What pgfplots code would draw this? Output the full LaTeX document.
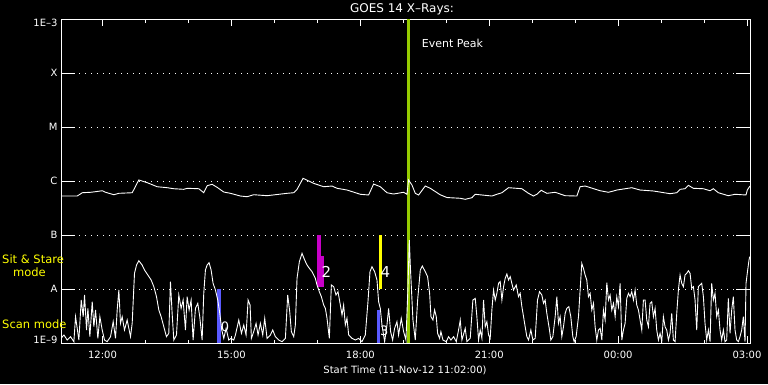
\documentclass[border=0pt]{standalone}
\usepackage{fontspec}
\setmainfont{DejaVu Sans}
\usepackage{pgfplots}
\pgfplotsset{compat=1.18}
\definecolor{scanblue}{RGB}{90,90,255}
\definecolor{sitmag}{RGB}{200,0,200}
\definecolor{peakgreen}{RGB}{150,204,0}
\definecolor{modeyellow}{RGB}{255,255,0}
\begin{document}
\begin{tikzpicture}[x=1pt,y=1pt]
\useasboundingbox (0,0) rectangle (768,384);
\fill[black] (0,0) rectangle (768,384);
\begin{axis}[
  at={(61pt,41pt)}, anchor=south west, scale only axis,
  width=689pt, height=324pt,
  xmin=11.0333, xmax=27.07, ymin=-9, ymax=-3,
  axis line style={white, line width=1pt},
  tick align=inside,
  xtick={12,15,18,21,24,27},
  xticklabels={12:00,15:00,18:00,21:00,00:00,03:00},
  minor xtick={13,14,16,17,19,20,22,23,25,26},
  major tick length=7pt, minor tick length=3.5pt,
  x tick style={white, line width=1pt},
  ytick={-9,-8,-7,-6,-5,-4,-3},
  yticklabels={\raisebox{3.5pt}[\height][\depth]{1E–9},A\hspace{10pt},B\hspace{10pt},C\hspace{10pt},M\hspace{10pt},X\hspace{10pt},\raisebox{-4pt}[\height][\depth]{1E–3}},
  y tick style={draw=none},
  ymajorgrids, grid style={white, line width=1pt, dash pattern=on 1pt off 5pt},
  ticklabel style={text=white, font=\fontsize{10}{12}\selectfont},
  xticklabel style={yshift=-5pt},
]
\pgfplotsinvokeforeach{-8,-7,-6,-5,-4}{
  \draw[white, line width=1pt] (axis cs:11.0333,#1) -- ++(14pt,0pt);
  \draw[white, line width=1pt] (axis cs:27.07,#1) -- ++(-14pt,0pt);
}
% observation bars
\addplot[scanblue, line width=4pt] coordinates {(14.721,-8) (14.721,-9)};
\addplot[sitmag, line width=4pt] coordinates {(17.047,-7) (17.047,-7.97)};
\addplot[sitmag, line width=3pt] coordinates {(17.128,-7.389) (17.128,-7.97)};
\addplot[scanblue, line width=3pt] coordinates {(18.430,-8.389) (18.430,-9)};
\addplot[modeyellow, line width=2.5pt] coordinates {(18.465,-7) (18.465,-8)};
\addplot[peakgreen, line width=2.5pt] coordinates {(19.116,-3) (19.116,-9)};
% long channel
\addplot[white, line width=0.9pt] coordinates {
(11.033,-6.278) (11.412,-6.278) (11.528,-6.217) (11.721,-6.209) (11.837,-6.198)
(11.993,-6.180) (12.070,-6.209) (12.263,-6.254) (12.379,-6.228) (12.691,-6.217)
(12.844,-5.981) (13.040,-6.031) (13.272,-6.106) (13.505,-6.124) (13.658,-6.143)
(13.891,-6.154) (13.970,-6.135) (14.240,-6.143) (14.356,-6.217) (14.435,-6.087)
(14.551,-6.061) (14.667,-6.117) (14.821,-6.204) (14.977,-6.228) (15.209,-6.278)
(15.365,-6.291) (15.519,-6.254) (15.830,-6.272) (16.295,-6.228) (16.449,-6.217)
(16.528,-6.154) (16.667,-5.950) (16.914,-6.043) (17.147,-6.106) (17.342,-6.093)
(17.458,-6.135) (17.691,-6.167) (18.000,-6.246) (18.193,-6.259) (18.309,-6.056)
(18.465,-6.106) (18.621,-6.217) (18.774,-6.241) (19.007,-6.209) (19.086,-6.246)
(19.123,-5.981) (19.202,-6.074) (19.279,-6.228) (19.356,-6.259) (19.512,-6.093)
(19.628,-6.135) (19.860,-6.255) (20.016,-6.306) (20.326,-6.320) (20.442,-6.339)
(20.598,-6.309) (20.674,-6.246) (20.830,-6.259) (21.063,-6.278) (21.179,-6.246)
(21.295,-6.217) (21.449,-6.124) (21.760,-6.143) (21.914,-6.228) (22.030,-6.278)
(22.109,-6.246) (22.209,-6.172) (22.342,-6.228) (22.535,-6.209) (22.767,-6.272)
(23.040,-6.278) (23.116,-6.106) (23.233,-6.093) (23.581,-6.180) (23.774,-6.209)
(23.891,-6.185) (23.970,-6.167) (24.319,-6.124) (24.512,-6.167) (24.821,-6.185)
(25.209,-6.235) (25.365,-6.217) (25.442,-6.154) (25.558,-6.143) (25.635,-6.080)
(25.751,-6.135) (25.984,-6.143) (26.140,-6.180) (26.216,-6.143) (26.333,-6.217)
(26.565,-6.272) (26.721,-6.246) (26.977,-6.259) (27.007,-6.167) (27.070,-6.093)
};
% short channel
\addplot[white, line width=0.9pt] coordinates {
(11.033,-8.914) (11.101,-8.852) (11.178,-8.945) (11.256,-8.883) (11.333,-8.975)
(11.372,-8.513) (11.449,-8.945) (11.504,-8.204) (11.550,-8.513) (11.581,-8.111)
(11.628,-8.759) (11.659,-8.358) (11.705,-8.883) (11.760,-8.235) (11.798,-8.698)
(11.837,-8.389) (11.891,-8.914) (11.938,-8.513) (11.992,-8.759) (12.046,-8.945)
(12.108,-8.975) (12.186,-8.883) (12.248,-8.605) (12.302,-8.914) (12.341,-8.389)
(12.380,-8.019) (12.418,-8.636) (12.457,-8.513) (12.511,-8.759) (12.573,-8.574)
(12.651,-8.883) (12.690,-8.636) (12.744,-7.710) (12.791,-7.556) (12.845,-7.476)
(12.922,-7.556) (12.977,-7.648) (13.054,-7.741) (13.132,-7.834) (13.194,-7.957)
(13.256,-8.142) (13.310,-8.389) (13.364,-8.513) (13.426,-8.698) (13.488,-8.883)
(13.542,-8.821) (13.581,-7.864) (13.620,-8.451) (13.659,-8.945) (13.721,-8.852)
(13.775,-8.111) (13.829,-8.358) (13.876,-8.204) (13.930,-8.759) (13.969,-8.142)
(14.015,-8.389) (14.062,-8.204) (14.108,-8.945) (14.163,-8.358) (14.217,-8.266)
(14.263,-8.513) (14.318,-8.945) (14.356,-8.080) (14.395,-7.648) (14.434,-7.556)
(14.480,-7.513) (14.527,-7.648) (14.573,-7.895) (14.628,-8.019) (14.682,-8.204)
(14.729,-8.451) (14.775,-8.759) (14.822,-8.914) (14.876,-8.729) (14.938,-8.945)
(14.992,-8.914) (15.054,-8.945) (15.093,-8.852) (15.171,-8.574) (15.233,-8.821)
(15.287,-8.667) (15.341,-8.852) (15.388,-8.204) (15.434,-8.296) (15.465,-8.914)
(15.519,-8.790) (15.574,-8.636) (15.620,-8.852) (15.674,-8.636) (15.729,-8.852)
(15.775,-8.543) (15.829,-8.914) (15.907,-8.852) (15.961,-8.759) (16.023,-8.883)
(16.101,-8.945) (16.178,-8.976) (16.256,-8.914) (16.310,-8.111) (16.357,-8.420)
(16.395,-8.790) (16.450,-8.883) (16.488,-8.667) (16.527,-7.803) (16.581,-7.494)
(16.643,-7.340) (16.705,-7.463) (16.760,-7.556) (16.814,-7.617) (16.876,-7.679)
(16.953,-7.803) (16.992,-7.926) (17.046,-8.050) (17.093,-8.142) (17.147,-8.296)
(17.186,-8.358) (17.225,-8.543) (17.279,-8.914) (17.326,-7.926) (17.380,-7.957)
(17.434,-8.111) (17.481,-8.050) (17.535,-8.296) (17.574,-8.482) (17.612,-8.296)
(17.651,-8.667) (17.690,-8.543) (17.729,-8.852) (17.806,-8.914) (17.884,-8.945)
(17.961,-8.914) (18.039,-8.976) (18.116,-8.852) (18.178,-8.235) (18.225,-7.679)
(18.271,-7.587) (18.333,-7.679) (18.388,-7.834) (18.426,-8.235) (18.465,-8.358)
(18.504,-8.667) (18.566,-8.976) (18.620,-8.667) (18.659,-8.358) (18.705,-8.790)
(18.752,-8.945) (18.798,-8.729) (18.853,-8.605) (18.891,-8.852) (18.953,-8.543)
(19.008,-8.790) (19.062,-8.945) (19.108,-7.988) (19.140,-7.093) (19.163,-7.556)
(19.225,-8.574) (19.279,-8.945) (19.334,-8.204) (19.396,-7.648) (19.442,-7.574)
(19.512,-7.679) (19.566,-7.772) (19.613,-8.080) (19.644,-8.513) (19.690,-8.574)
(19.729,-8.389) (19.768,-8.513) (19.799,-8.821) (19.845,-8.914) (19.876,-8.790)
(19.923,-8.945) (20.000,-8.975) (20.054,-8.883) (20.109,-8.945) (20.171,-8.883)
(20.233,-8.975) (20.287,-8.759) (20.326,-8.574) (20.365,-8.945) (20.442,-8.729)
(20.481,-8.975) (20.558,-8.914) (20.620,-8.204) (20.675,-8.173) (20.713,-8.513)
(20.752,-8.945) (20.791,-8.759) (20.830,-8.914) (20.868,-8.204) (20.907,-8.698)
(20.946,-8.605) (20.985,-8.852) (21.023,-8.914) (21.062,-8.389) (21.101,-8.019)
(21.140,-8.204) (21.178,-8.080) (21.217,-7.895) (21.256,-7.864) (21.295,-8.204)
(21.334,-7.957) (21.372,-7.803) (21.411,-7.722) (21.450,-7.834) (21.489,-7.772)
(21.527,-7.895) (21.566,-8.019) (21.628,-7.926) (21.682,-8.142) (21.721,-8.080)
(21.760,-8.327) (21.799,-8.513) (21.837,-8.698) (21.876,-8.883) (21.915,-8.945)
(21.969,-8.759) (22.016,-8.945) (22.070,-8.914) (22.124,-8.204) (22.171,-8.050)
(22.225,-8.111) (22.264,-8.266) (22.302,-8.204) (22.341,-8.451) (22.403,-8.759)
(22.434,-8.945) (22.481,-8.883) (22.535,-8.513) (22.574,-8.142) (22.612,-8.636)
(22.651,-8.513) (22.690,-8.883) (22.729,-8.698) (22.768,-8.451) (22.806,-8.358)
(22.853,-8.327) (22.899,-8.513) (22.946,-8.883) (22.977,-8.975) (23.023,-8.883)
(23.078,-8.513) (23.116,-8.019) (23.155,-7.525) (23.194,-7.618) (23.233,-7.741)
(23.271,-7.834) (23.310,-8.142) (23.349,-8.080) (23.388,-8.389) (23.427,-8.266)
(23.465,-8.698) (23.504,-8.945) (23.543,-8.759) (23.582,-8.729) (23.621,-8.945)
(23.659,-8.389) (23.698,-8.574) (23.737,-7.883) (23.776,-8.204) (23.814,-8.111)
(23.853,-8.389) (23.892,-8.266) (23.931,-8.513) (23.969,-8.142) (24.008,-8.327)
(24.047,-7.895) (24.086,-8.945) (24.124,-8.759) (24.163,-8.636) (24.202,-8.173)
(24.241,-8.080) (24.279,-8.142) (24.318,-8.050) (24.357,-8.204) (24.396,-8.019)
(24.434,-8.297) (24.473,-8.389) (24.512,-8.574) (24.551,-8.759) (24.589,-8.204)
(24.628,-8.204) (24.667,-8.574) (24.706,-8.698) (24.744,-8.266) (24.783,-8.235)
(24.822,-8.513) (24.861,-8.358) (24.899,-8.759) (24.938,-8.945) (24.977,-8.821)
(25.016,-8.975) (25.054,-8.513) (25.093,-8.698) (25.132,-8.759) (25.171,-8.945)
(25.209,-8.821) (25.248,-8.451) (25.287,-8.945) (25.326,-8.975) (25.365,-8.451)
(25.403,-8.019) (25.442,-7.741) (25.481,-7.895) (25.520,-7.957) (25.558,-7.741)
(25.597,-7.710) (25.636,-7.661) (25.675,-7.710) (25.713,-7.988) (25.752,-7.957)
(25.791,-8.204) (25.830,-8.759) (25.868,-7.957) (25.907,-7.926) (25.946,-7.895)
(25.985,-8.142) (26.023,-8.636) (26.062,-8.945) (26.101,-8.759) (26.140,-8.975)
(26.178,-7.895) (26.217,-8.204) (26.256,-8.080) (26.295,-8.513) (26.334,-8.389)
(26.372,-8.759) (26.411,-8.945) (26.450,-8.759) (26.489,-8.975) (26.527,-8.945)
(26.566,-8.173) (26.605,-8.821) (26.644,-8.389) (26.682,-8.142) (26.721,-8.759)
(26.760,-8.945) (26.799,-8.975) (26.837,-8.883) (26.876,-8.759) (26.915,-8.513)
(26.954,-8.975) (26.977,-7.895) (27.016,-7.648) (27.047,-7.463) (27.062,-7.401)
};
% labels inside the plot
\node[white, font=\fontsize{11}{13}\selectfont, anchor=west] at (axis cs:19.349,-3.444) {Event Peak};
\node[white, font=\fontsize{15}{17}\selectfont] at (axis cs:17.209,-7.685) {2};
\node[white, font=\fontsize{15}{17}\selectfont] at (axis cs:18.581,-7.685) {4};
\node[white, font=\fontsize{13}{15}\selectfont] at (axis cs:18.558,-8.778) {3};
\node[white, font=\fontsize{13}{15}\selectfont] at (axis cs:14.850,-8.70) {0};
\end{axis}
\node[white, font=\fontsize{12}{14}\selectfont] at (402,374.5) {GOES 14 X–Rays:};
\node[white, font=\fontsize{10}{12}\selectfont] at (405,14) {Start Time (11-Nov-12 11:02:00)};
\node[modeyellow, font=\fontsize{11.5}{13}\selectfont, anchor=west, inner sep=0pt] at (2,125) {Sit \& Stare};
\node[modeyellow, font=\fontsize{11.5}{13}\selectfont, anchor=west, inner sep=0pt] at (13,112) {mode};
\node[modeyellow, font=\fontsize{11.5}{13}\selectfont, anchor=west, inner sep=0pt] at (2,60) {Scan mode};
\end{tikzpicture}
\end{document}
